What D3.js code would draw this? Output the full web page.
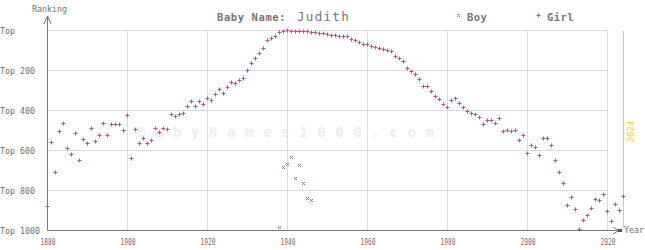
<!DOCTYPE html>
<html>
<head>
<meta charset="utf-8">
<script src="https://cdn.jsdelivr.net/npm/d3@7"></script>
<style>
  body { margin: 0; background: #fff; }
  text { font-family: "DejaVu Sans Mono", monospace; }
</style>
</head>
<body>
<div id="chart"></div>
<script>
// ranks, one per year
const girlYears = d3.range(1880, 2025)
const girlRanks = [
  882, 562, 712, 507, 467, 592, 622, 517, 652, 547,   // 1880s
  567, 492, 557, 527, 467, 527, 472, 472, 472, 502,   // 1890s
  427, 642, 497, 567, 542, 567, 552, 492, 512, 492,   // 1900s
  497, 422, 432, 422, 417, 382, 357, 382, 357, 372,   // 1910s
  342, 352, 322, 297, 317, 287, 262, 267, 252, 242,   // 1920s
  202, 167, 142, 117, 92, 52, 42, 32, 12, 7,          // 1930s
  2, 7, 7, 7, 7, 7, 12, 12, 17, 17,                   // 1940s
  22, 27, 27, 32, 32, 32, 47, 52, 62, 72,             // 1950s
  72, 82, 87, 92, 97, 102, 107, 132, 142, 157,        // 1960s
  192, 207, 222, 247, 282, 282, 307, 332, 347, 372,   // 1970s
  387, 352, 342, 367, 387, 407, 417, 422, 437, 472,   // 1980s
  452, 452, 467, 442, 507, 502, 507, 502, 552, 527,   // 1990s
  617, 577, 587, 627, 542, 542, 577, 652, 712, 767,   // 2000s
  877, 837, 897, 997, 952, 927, 892, 847, 852, 822,   // 2010s
  907, 957, 872, 902, 832                             // 2020s
]
const boyYears = [1938, 1939, 1940, 1941, 1942, 1943, 1944, 1945, 1946]
const boyRanks = [987, 687, 672, 637, 742, 677, 767, 842, 852]

const xGrid = [1900, 1920, 1940, 1960, 1980, 2000, 2020]
const xTicks = [1880, 1900, 1920, 1940, 1960, 1980, 2000, 2020]
const yTicks = [0, 200, 400, 600, 800, 1000]
const yTickLabels = ["Top", "Top 200", "Top 400", "Top 600", "Top 800", "Top 1000"]

const width = 645, height = 250
const svg = d3.select("#chart").append("svg")
  .attr("width", width).attr("height", height)

const x = d3.scaleLinear().domain([1880, 2024]).range([47.5, 623.5])
const y = d3.scaleLinear().domain([0, 1000]).range([30.5, 230.5])
// snap marker centres to pixel centres so the glyphs stay crisp
const py = v => Math.round(y(v) - 0.5) + 0.5

// watermark
svg.append("text")
  .attr("x", 137).attr("y", 137)
  .style("font-size", "14px").style("font-weight", "bold")
  .style("letter-spacing", "9.6px")
  .attr("fill", "#ededed")
  .text("BabyNames1000.com")

// grid
svg.append("g").selectAll("line").data(xGrid).join("line")
  .attr("x1", d => x(d)).attr("x2", d => x(d))
  .attr("y1", y(0)).attr("y2", y(1000))
  .attr("stroke", "#dcdcdc")
svg.append("g").selectAll("line").data(yTicks.slice(0, -1)).join("line")
  .attr("x1", x(1880)).attr("x2", x(2020))
  .attr("y1", d => y(d)).attr("y2", d => y(d))
  .attr("stroke", "#dcdcdc")

// current year marker
svg.append("line")
  .attr("x1", x(2024)).attr("x2", x(2024))
  .attr("y1", y(0)).attr("y2", y(985))
  .attr("stroke", "#f2d21a")
svg.append("text")
  .attr("transform", `translate(${x(2024) + 10},${y(505)})rotate(-90)`)
  .attr("text-anchor", "middle")
  .style("font-size", "9px")
  .attr("fill", "#f2d21a")
  .text("2024")

// axes
const xAxis = svg.append("g")
  .attr("transform", `translate(0,${y(1000)})`)
  .call(d3.axisBottom(x).tickValues(xTicks).tickSize(0).tickFormat(d3.format("d")))
xAxis.select(".domain").remove()
xAxis.selectAll("text")
  .attr("y", 8)
  .attr("textLength", 15).attr("lengthAdjust", "spacingAndGlyphs")
  .style("font-size", "9px").attr("fill", "#6f6f6f")

const yAxis = svg.append("g")
  .call(d3.axisLeft(y).tickValues(yTicks).tickSize(0).tickFormat((d, i) => yTickLabels[i]))
yAxis.select(".domain").remove()
yAxis.selectAll("text")
  .attr("x", 0).attr("text-anchor", "start").attr("dy", "0.35em")
  .style("font-size", "8.3px").attr("fill", "#6f6f6f")

svg.append("line")
  .attr("x1", x(1880)).attr("x2", x(1880))
  .attr("y1", 16).attr("y2", y(1000))
  .attr("stroke", "#777")
svg.append("path")
  .attr("d", `M${x(1880) - 3.5},24L${x(1880)},16L${x(1880) + 3.5},24`)
  .attr("fill", "none").attr("stroke", "#777")
svg.append("line")
  .attr("x1", x(1880)).attr("x2", 621)
  .attr("y1", y(1000)).attr("y2", y(1000))
  .attr("stroke", "#777")
svg.append("path")
  .attr("d", `M613,${y(1000) - 3.5}L619,${y(1000)}L613,${y(1000) + 3.5}`)
  .attr("fill", "none").attr("stroke", "#777")
svg.append("rect")
  .attr("x", 618).attr("y", y(1000) - 1.5).attr("width", 4).attr("height", 3)
  .attr("fill", "#555")

svg.append("text").attr("x", 32).attr("y", 12)
  .style("font-size", "8.3px").attr("fill", "#6f6f6f").text("Ranking")
svg.append("text").attr("x", 624).attr("y", 233)
  .style("font-size", "8.3px").attr("fill", "#6f6f6f").text("Year")

// title + legend
svg.append("text").attr("x", 217).attr("y", 21)
  .style("font-size", "10.5px").style("font-weight", "bold").style("letter-spacing", "0.6px")
  .attr("fill", "#777").text("Baby Name:")
svg.append("text").attr("x", 297).attr("y", 21)
  .style("font-size", "12.5px").style("letter-spacing", "1.3px")
  .attr("fill", "#777").text("Judith")

const cross = "M-1.5,-1.5L1.5,1.5M-1.5,1.5L1.5,-1.5"
const plus = "M-2,0H2M0,-2V2"

svg.append("path").attr("d", cross).attr("transform", "translate(458.5,15.5)")
  .attr("stroke", "#6c83c2").attr("fill", "none")
svg.append("text").attr("x", 467).attr("y", 21)
  .style("font-size", "10.5px").style("font-weight", "bold").style("letter-spacing", "0.4px")
  .attr("fill", "#777").text("Boy")
svg.append("path").attr("d", plus).attr("transform", "translate(538.5,15.5)")
  .attr("stroke", "#c2507e").attr("fill", "none")
svg.append("text").attr("x", 547).attr("y", 21)
  .style("font-size", "10.5px").style("font-weight", "bold").style("letter-spacing", "0.4px")
  .attr("fill", "#777").text("Girl")

// points
svg.append("g").selectAll("path").data(boyYears).join("path")
  .attr("d", cross)
  .attr("transform", (d, i) => `translate(${x(d)},${py(boyRanks[i])})`)
  .attr("stroke", "#6c83c2").attr("fill", "none")

svg.append("g").selectAll("path").data(girlYears).join("path")
  .attr("d", plus)
  .attr("transform", (d, i) => `translate(${x(d)},${py(girlRanks[i])})`)
  .attr("stroke", "#c2507e").attr("fill", "none")
</script>
</body>
</html>
